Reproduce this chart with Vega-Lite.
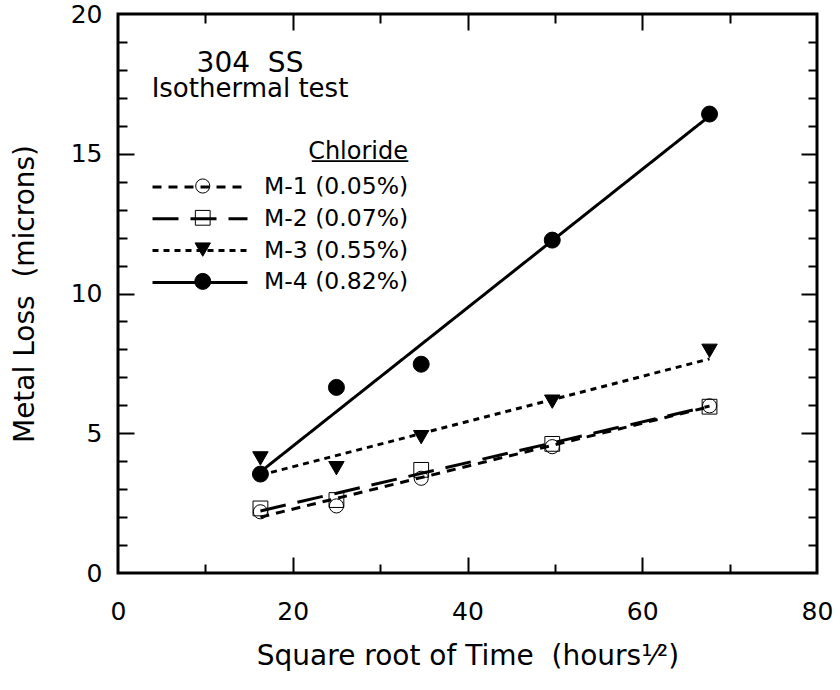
{
  "$schema": "https://vega.github.io/schema/vega-lite/v6.json",
  "autosize": {"type": "none"},
  "padding": {"left": 118, "top": 14, "right": 23, "bottom": 117},
  "width": 699,
  "height": 559,
  "title": {
    "text": "304\u00a0 SS",
    "subtitle": "Isothermal test",
    "anchor": "start",
    "frame": "group",
    "align": "center",
    "dx": 132,
    "dy": 104,
    "fontSize": 28,
    "fontWeight": "normal",
    "subtitleFontSize": 26,
    "subtitlePadding": -2,
    "color": "black",
    "subtitleColor": "black",
    "font": "DejaVu Sans",
    "subtitleFont": "DejaVu Sans"
  },
  "datasets": {
    "fits": [
      {"series": "M-1 (0.05%)", "x": 16.3, "y": 2.0},
      {"series": "M-1 (0.05%)", "x": 67.7, "y": 5.95},
      {"series": "M-2 (0.07%)", "x": 16.3, "y": 2.22},
      {"series": "M-2 (0.07%)", "x": 67.7, "y": 5.97},
      {"series": "M-3 (0.55%)", "x": 16.3, "y": 3.5},
      {"series": "M-3 (0.55%)", "x": 67.7, "y": 7.66},
      {"series": "M-4 (0.82%)", "x": 16.3, "y": 3.62},
      {"series": "M-4 (0.82%)", "x": 67.7, "y": 16.35}
    ],
    "points": [
      {"series": "M-1 (0.05%)", "x": 16.3, "y": 2.19},
      {"series": "M-1 (0.05%)", "x": 25.0, "y": 2.40},
      {"series": "M-1 (0.05%)", "x": 34.7, "y": 3.39},
      {"series": "M-1 (0.05%)", "x": 49.7, "y": 4.52},
      {"series": "M-1 (0.05%)", "x": 67.7, "y": 5.98},
      {"series": "M-2 (0.07%)", "x": 16.3, "y": 2.31},
      {"series": "M-2 (0.07%)", "x": 25.0, "y": 2.61},
      {"series": "M-2 (0.07%)", "x": 34.7, "y": 3.69},
      {"series": "M-2 (0.07%)", "x": 49.7, "y": 4.62},
      {"series": "M-2 (0.07%)", "x": 67.7, "y": 5.95},
      {"series": "M-3 (0.55%)", "x": 16.3, "y": 4.10},
      {"series": "M-3 (0.55%)", "x": 25.0, "y": 3.75},
      {"series": "M-3 (0.55%)", "x": 34.7, "y": 4.86},
      {"series": "M-3 (0.55%)", "x": 49.7, "y": 6.13},
      {"series": "M-3 (0.55%)", "x": 67.7, "y": 7.95},
      {"series": "M-4 (0.82%)", "x": 16.3, "y": 3.54},
      {"series": "M-4 (0.82%)", "x": 25.0, "y": 6.64},
      {"series": "M-4 (0.82%)", "x": 34.7, "y": 7.47},
      {"series": "M-4 (0.82%)", "x": 49.7, "y": 11.91},
      {"series": "M-4 (0.82%)", "x": 67.7, "y": 16.42}
    ]
  },
  "resolve": {"axis": {"x": "independent", "y": "independent"}},
  "layer": [
    {
      "data": {"name": "fits"},
      "mark": {"type": "line", "color": "black", "strokeWidth": 3, "clip": true},
      "encoding": {
        "x": {
          "field": "x", "type": "quantitative",
          "scale": {"domain": [0, 80], "nice": false, "zero": false},
          "axis": {
            "orient": "bottom", "values": [0, 20, 40, 60, 80], "ticks": false,
            "labelPadding": 26, "labelFlush": false,
            "title": "Square root of Time\u00a0 (hours¹⁄²)", "titlePadding": 18
          }
        },
        "y": {
          "field": "y", "type": "quantitative",
          "scale": {"domain": [0, 20], "nice": false, "zero": false},
          "axis": {
            "orient": "left", "values": [0, 5, 10, 15, 20], "ticks": false,
            "labelPadding": 16, "labelFlush": false,
            "title": "Metal Loss\u00a0 (microns)", "titlePadding": 31
          }
        },
        "detail": {"field": "series"},
        "strokeDash": {
          "field": "series", "type": "nominal",
          "scale": {
            "domain": ["M-1 (0.05%)", "M-2 (0.07%)", "M-3 (0.55%)", "M-4 (0.82%)"],
            "range": [[9, 7], [26, 12], [6, 5], [1, 0]]
          },
          "legend": {
            "orient": "none", "legendX": 33, "legendY": 126,
            "title": ["Chloride", "________"], "titleAnchor": "end", "titleFontSize": 24,
            "titleLineHeight": -3,
            "titleFontWeight": "normal", "titleColor": "black", "titlePadding": 16,
            "symbolType": "stroke", "symbolSize": 9025, "symbolStrokeWidth": 3,
            "symbolStrokeColor": "black",
            "labelFontSize": 23.5, "labelColor": "black", "labelOffset": 15,
            "clipHeight": 20, "rowPadding": 7.8, "padding": 0
          }
        }
      }
    },
    {
      "data": {"name": "points"},
      "mark": {"type": "point", "filled": true, "strokeWidth": 1, "opacity": 1},
      "encoding": {
        "x": {
          "field": "x", "type": "quantitative",
          "axis": {
            "orient": "bottom", "values": [10, 20, 30, 40, 50, 60, 70], "labels": false,
            "tickSize": {"condition": {"test": "datum.value % 20 === 0", "value": -16}, "value": -9},
            "tickWidth": 2, "tickColor": "black", "title": null
          }
        },
        "y": {
          "field": "y", "type": "quantitative",
          "axis": {
            "orient": "left", "values": [1, 2, 3, 4, 5, 6, 7, 8, 9, 10, 11, 12, 13, 14, 15, 16, 17, 18, 19], "labels": false,
            "tickSize": {"condition": {"test": "datum.value % 5 === 0", "value": -16}, "value": -9},
            "tickWidth": 2, "tickColor": "black", "title": null
          }
        },
        "shape": {
          "field": "series", "type": "nominal",
          "scale": {"range": ["circle", "square", "triangle-down", "circle"]},
          "legend": {
            "orient": "none", "legendX": 73, "legendY": 162, "title": null,
            "labelExpr": "' '", "labelOpacity": 0, "labelFontSize": 23.5, "labelOffset": 15,
            "clipHeight": 20, "rowPadding": 7.8, "padding": 0,
            "symbolStrokeWidth": 1
          }
        },
        "fill": {
          "field": "series", "type": "nominal",
          "scale": {"range": ["transparent", "transparent", "black", "black"]},
          "legend": {
            "orient": "none", "legendX": 73, "legendY": 162, "title": null,
            "labelExpr": "' '", "labelOpacity": 0, "labelFontSize": 23.5, "labelOffset": 15,
            "clipHeight": 20, "rowPadding": 7.8, "padding": 0,
            "symbolStrokeWidth": 1
          }
        },
        "stroke": {
          "field": "series", "type": "nominal",
          "scale": {"range": ["black", "black", "black", "black"]},
          "legend": {
            "orient": "none", "legendX": 73, "legendY": 162, "title": null,
            "labelExpr": "' '", "labelOpacity": 0, "labelFontSize": 23.5, "labelOffset": 15,
            "clipHeight": 20, "rowPadding": 7.8, "padding": 0,
            "symbolStrokeWidth": 1
          }
        },
        "size": {
          "field": "series", "type": "nominal",
          "scale": {"range": [200, 256, 290, 227]},
          "legend": {
            "orient": "none", "legendX": 73, "legendY": 162, "title": null,
            "labelExpr": "' '", "labelOpacity": 0, "labelFontSize": 23.5, "labelOffset": 15,
            "clipHeight": 20, "rowPadding": 7.8, "padding": 0,
            "symbolStrokeWidth": 1
          }
        }
      }
    },
    {
      "data": {"name": "points"},
      "mark": {"type": "point", "opacity": 0},
      "encoding": {
        "x": {
          "field": "x", "type": "quantitative",
          "axis": {
            "orient": "top", "values": [10, 20, 30, 40, 50, 60, 70], "labels": false,
            "tickSize": {"condition": {"test": "datum.value % 20 === 0", "value": -16}, "value": -9},
            "tickWidth": 2, "tickColor": "black", "title": null
          }
        },
        "y": {
          "field": "y", "type": "quantitative",
          "axis": {
            "orient": "right", "values": [1, 2, 3, 4, 5, 6, 7, 8, 9, 10, 11, 12, 13, 14, 15, 16, 17, 18, 19], "labels": false,
            "tickSize": {"condition": {"test": "datum.value % 5 === 0", "value": -16}, "value": -9},
            "tickWidth": 2, "tickColor": "black", "title": null
          }
        }
      }
    }
  ],
  "config": {
    "font": "DejaVu Sans",
    "view": {"stroke": "black", "strokeWidth": 3},
    "axis": {
      "domain": false, "grid": false,
      "labelColor": "black", "titleColor": "black",
      "labelFont": "DejaVu Sans", "titleFont": "DejaVu Sans",
      "labelFontSize": 25, "titleFontSize": 28, "titleFontWeight": "normal"
    },
    "legend": {"labelFont": "DejaVu Sans", "titleFont": "DejaVu Sans"}
  }
}
